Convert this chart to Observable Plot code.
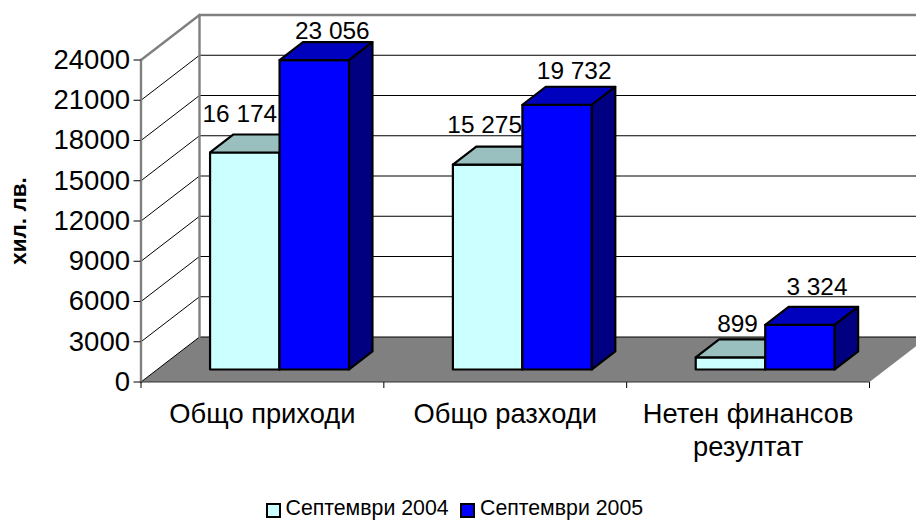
<!DOCTYPE html>
<html><head><meta charset="utf-8">
<script src="https://cdn.jsdelivr.net/npm/d3@7"></script>
<script src="https://cdn.jsdelivr.net/npm/@observablehq/plot@0.6"></script>
<style>
html,body{margin:0;padding:0;background:#fff;overflow:hidden}
#legend{position:relative;height:32px;font:21.3px "Liberation Sans",Arial,sans-serif;color:#000}
#legend .sw{position:absolute;top:15px;width:11px;height:11px;border:2px solid #000}
#legend .t{position:absolute;top:8.5px;line-height:23.5px;white-space:nowrap}
</style></head><body>
<div id="chart"></div>
<div id="legend"></div>
<script>
const categories = ["Общо приходи", "Общо разходи", "Нетен финансов\nрезултат"];
const series2004 = [16174, 15275, 899];
const series2005 = [23056, 19732, 3324];
const labels2004 = ["16 174", "15 275", "899"];
const labels2005 = ["23 056", "19 732", "3 324"];
const yTicks = [0, 3000, 6000, 9000, 12000, 15000, 18000, 21000, 24000];
const seriesNames = ["Септември 2004", "Септември 2005"];

// layout of the oblique projection, in scale units
const H = 488, catPx = 242.83, pxPerVal = 322 / 24000;
const depthX = 58.5 / catPx, depthY = 45 / pxPerVal;
const barGap = 52.8 / catPx, barW = 69.5 / catPx;
const d0 = 0.278, d1 = 0.678;
const P = (x, d, v) => ({px: x + d * depthX, py: v + d * depthY});
const seg = (id, a, b) => [{id, ...a}, {id, ...b}];

const palette = [
  {front: "#CCFFFF", top: "#99BFBF", side: "#668080"},
  {front: "#0000FF", top: "#0000BF", side: "#000080"}
];

const faces = [];
function face(id, fill, pts) { for (const p of pts) faces.push({id, fill, ...p}); }
categories.forEach((c, i) => {
  [series2004[i], series2005[i]].forEach((v, s) => {
    const xa = i + barGap + s * barW, xb = xa + barW, col = palette[s], k = i + "-" + s;
    face(k + "f", col.front, [P(xa,d0,0), P(xb,d0,0), P(xb,d0,v), P(xa,d0,v)]);
    face(k + "t", col.top, [P(xa,d0,v), P(xb,d0,v), P(xb,d1,v), P(xa,d1,v)]);
    face(k + "s", col.side, [P(xb,d0,0), P(xb,d1,0), P(xb,d1,v), P(xb,d0,v)]);
  });
});

const floor = [P(0,0,0), P(3,0,0), P(3,1,0), P(0,1,0)];
const gridLines = yTicks.slice(1, -1).concat([0]).flatMap(v => [
  ...seg("l" + v, P(0,0,v), P(0,1,v)),
  ...seg("b" + v, P(0,1,v), P(3,1,v))
]);
const frameLines = [
  ...seg("a", P(0,0,0), P(0,0,24000)),
  ...seg("c", P(0,1,0), P(0,1,24000)),
  ...seg("d", P(0,0,24000), P(0,1,24000)),
  ...seg("e", P(0,1,24000), P(3,1,24000))
];
const xy = {x: "px", y: "py"};

// hand-placed data labels of the original (pixel nudges from bar top)
const nudge2004 = [[-5,-43],[-3,-44],[7,-38]];
const nudge2005 = [[18,-34],[17,-38],[17,-42]];
const labelMarks = [];
categories.forEach((c, i) => {
  const x1 = i + barGap + barW / 2 + d0 * depthX, x2 = x1 + barW;
  labelMarks.push(Plot.text([labels2004[i]], {x: () => x1, y: () => series2004[i], dx: nudge2004[i][0], dy: nudge2004[i][1], fontSize: 24.4, lineAnchor: "bottom"}));
  labelMarks.push(Plot.text([labels2005[i]], {x: () => x2, y: () => series2005[i], dx: nudge2005[i][0], dy: nudge2005[i][1], fontSize: 24.4, lineAnchor: "bottom"}));
});

const chart = Plot.plot({
  width: 916, height: H,
  marginLeft: 140.5, marginRight: 47, marginTop: 60, marginBottom: H - 382,
  style: {fontFamily: "'Liberation Sans', Arial, sans-serif", color: "#000", background: "#fff", overflow: "hidden"},
  x: {type: "linear", domain: [0, 3], range: [140.5, 869], axis: null},
  y: {type: "linear", domain: [0, 24000], range: [381.5, 59.5], axis: null},
  marks: [
    Plot.line(floor, {...xy, curve: "linear-closed", fill: "#808080", stroke: "none"}),
    Plot.line(gridLines, {...xy, z: "id", stroke: "#000", strokeWidth: 1}),
    Plot.line(frameLines, {...xy, z: "id", stroke: "#808080", strokeWidth: 2.4}),
    Plot.ruleY([0], {x1: 0, x2: 3, stroke: "#333", strokeWidth: 1.2}),
    Plot.line(faces, {...xy, z: "id", fill: "fill", stroke: "#000", strokeWidth: 2.2, curve: "linear-closed", strokeLinejoin: "round"}),
    ...labelMarks,
    Plot.axisY({ticks: yTicks, anchor: "left", tickSize: 7, tickPadding: 4, fontSize: 27.5, label: null, tickFormat: d => String(d)}),
    Plot.axisX({ticks: [0, 1, 2, 3], anchor: "bottom", tickSize: 6, tickFormat: () => "", label: null}),
    Plot.text(categories, {x: (d, i) => i + 0.5, y: () => 0, dy: 17, lineAnchor: "top", fontSize: 27.3, lineHeight: 1.22}),
    Plot.text(["хил. лв."], {frameAnchor: "left", textAnchor: "middle", y: () => 12000, dx: 18 - 140.5, rotate: -90, fontSize: 22.5, fontWeight: "bold"})
  ]
});
document.getElementById("chart").appendChild(chart);

const leg = document.getElementById("legend");
[[266, 285.5], [460, 480]].forEach(([a, b], i) => {
  const s = document.createElement("div"); s.className = "sw"; s.style.left = a + "px"; s.style.background = palette[i].front;
  const t = document.createElement("div"); t.className = "t"; t.style.left = b + "px"; t.textContent = seriesNames[i];
  leg.append(s, t);
});
</script></body></html>
